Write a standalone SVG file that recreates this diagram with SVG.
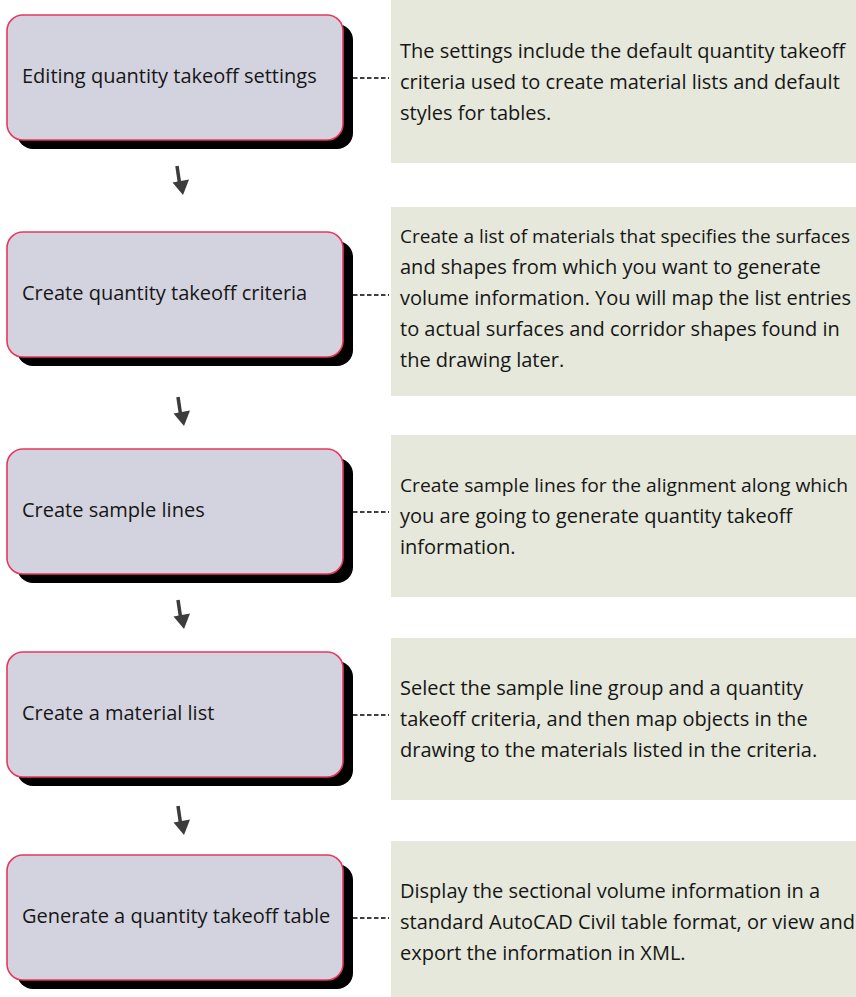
<svg xmlns="http://www.w3.org/2000/svg" width="856" height="997" viewBox="0 0 856 997">
<style>
.shadow{fill:#000}
.box{fill:#d3d3df;stroke:#e8375b;stroke-width:1.6}
.note{fill:#e5e8da}
.t{font-family:"Open Sans","Liberation Sans",sans-serif;font-size:20px;fill:#161616}
.tc{font-size:19px}
.dash{stroke:#000;stroke-width:1.5;stroke-dasharray:4.5 2.5;fill:none}
.shaft{stroke:#3c3c3c;stroke-width:3.5;fill:none}
.head{fill:#3c3c3c}
</style>
<rect width="856" height="997" fill="#fff"/>
<g id="step1">
<rect class="shadow" x="17" y="24" width="336" height="125" rx="16"/>
<rect class="box" x="7" y="15" width="336" height="125" rx="16"/>
<text class="t" x="22" y="83">Editing quantity takeoff settings</text>
</g>
<g id="note1">
<rect class="note" x="391" y="0" width="465" height="163"/>
<text class="t" x="400" y="58">The settings include the default quantity takeoff</text>
<text class="t" x="400" y="89">criteria used to create material lists and default</text>
<text class="t" x="400" y="120">styles for tables.</text>
</g>
<g id="step2">
<rect class="shadow" x="17" y="241" width="336" height="125" rx="16"/>
<rect class="box" x="7" y="232" width="336" height="125" rx="16"/>
<text class="t" x="22" y="300">Create quantity takeoff criteria</text>
</g>
<g id="note2">
<rect class="note" x="391" y="207" width="465" height="189"/>
<text class="t tc" x="400" y="243" textLength="450" lengthAdjust="spacingAndGlyphs">Create a list of materials that specifies the surfaces</text>
<text class="t" x="400" y="274">and shapes from which you want to generate</text>
<text class="t" x="400" y="305">volume information. You will map the list entries</text>
<text class="t" x="400" y="336">to actual surfaces and corridor shapes found in</text>
<text class="t" x="400" y="367">the drawing later.</text>
</g>
<g id="step3">
<rect class="shadow" x="17" y="458" width="336" height="125" rx="16"/>
<rect class="box" x="7" y="449" width="336" height="125" rx="16"/>
<text class="t" x="22" y="517">Create sample lines</text>
</g>
<g id="note3">
<rect class="note" x="391" y="435" width="465" height="162"/>
<text class="t tc" x="400" y="492" textLength="448" lengthAdjust="spacingAndGlyphs">Create sample lines for the alignment along which</text>
<text class="t" x="400" y="523">you are going to generate quantity takeoff</text>
<text class="t" x="400" y="554">information.</text>
</g>
<g id="step4">
<rect class="shadow" x="17" y="661" width="336" height="125" rx="16"/>
<rect class="box" x="7" y="652" width="336" height="125" rx="16"/>
<text class="t" x="22" y="720">Create a material list</text>
</g>
<g id="note4">
<rect class="note" x="391" y="638" width="465" height="162"/>
<text class="t" x="400" y="695">Select the sample line group and a quantity</text>
<text class="t" x="400" y="726">takeoff criteria, and then map objects in the</text>
<text class="t" x="400" y="757">drawing to the materials listed in the criteria.</text>
</g>
<g id="step5">
<rect class="shadow" x="17" y="864" width="336" height="125" rx="16"/>
<rect class="box" x="7" y="855" width="336" height="125" rx="16"/>
<text class="t" x="22" y="923">Generate a quantity takeoff table</text>
</g>
<g id="note5">
<rect class="note" x="391" y="841" width="465" height="156"/>
<text class="t" x="400" y="898">Display the sectional volume information in a</text>
<text class="t" x="400" y="929">standard AutoCAD Civil table format, or view and</text>
<text class="t" x="400" y="960">export the information in XML.</text>
</g>
<g id="connectors">
<line class="dash" x1="353" y1="78" x2="389" y2="78"/>
<line class="dash" x1="353" y1="295" x2="389" y2="295"/>
<line class="dash" x1="353" y1="512" x2="389" y2="512"/>
<line class="dash" x1="353" y1="715" x2="389" y2="715"/>
<line class="dash" x1="353" y1="918" x2="389" y2="918"/>
<path class="shaft" d="M177 166 L179.5 183"/>
<polygon class="head" points="172.5,182.5 189,179.5 183,195"/>
<path class="shaft" d="M178 397 L180.5 414"/>
<polygon class="head" points="173.5,413.5 190,410.5 184,426"/>
<path class="shaft" d="M178 600 L180.5 617"/>
<polygon class="head" points="173.5,616.5 190,613.5 184,629"/>
<path class="shaft" d="M178 806 L180.5 823"/>
<polygon class="head" points="173.5,822.5 190,819.5 184,835"/>
</g>
</svg>
